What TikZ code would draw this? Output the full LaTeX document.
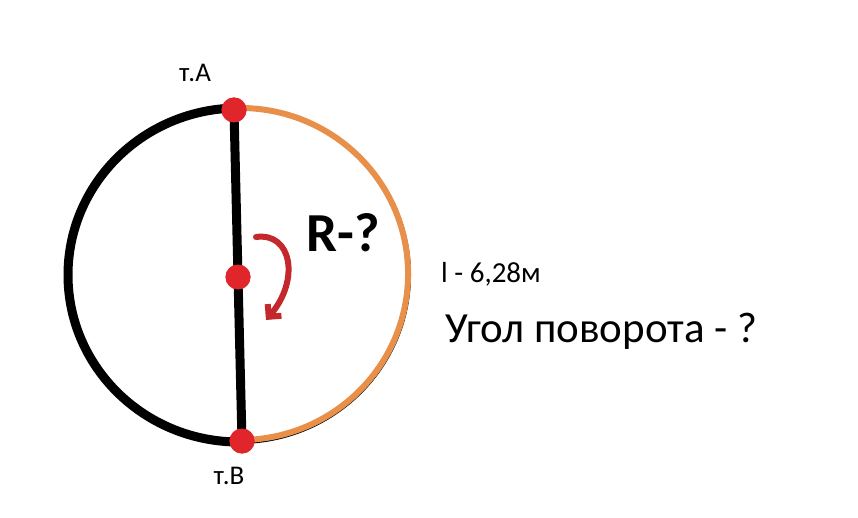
\documentclass[tikz,border=0pt]{standalone}
\usepackage{fontspec}
\setmainfont{Carlito}
\usetikzlibrary{positioning}
\usetikzlibrary{arrows.meta}
\definecolor{dotred}{HTML}{E0262B}
\definecolor{arrowred}{HTML}{C4282C}
\definecolor{arcorange}{HTML}{E8904A}
\tikzset{mydot/.style={circle, fill=dotred, inner sep=0pt, minimum size=25pt},
mylabel/.style={font=\fontsize{27}{29}\selectfont, inner sep=0pt}}
\begin{document}
\begin{tikzpicture}[x=1pt, y=-1pt, line cap=round]
	\useasboundingbox[fill=white] (0,0) rectangle (858,518);
	% circle
	\draw[line width=9pt] (239,108) arc[start angle=270, end angle=90, x radius=171, y radius=167];
	\draw[line width=4pt] (239,108) arc[start angle=-90, end angle=90, x radius=170, y radius=167];
	\draw[line width=6pt, arcorange] (243,108) arc[start angle=-89, end angle=88, x radius=168, y radius=166];
	% points
	\node[mydot] (A) at (234,110) {};
	\node[mydot] (O) at (238,277) {};
	\node[mydot] (B) at (242,441) {};
	\draw[line width=9pt] (A) -- (O) -- (B);
	\node[mydot] at (O) {};
	\node[mydot] at (A) {};
	\node[mydot] at (B) {};
	\node[mylabel] (lA) at (195,73) {т.А};
	\node[mylabel] (lB) at (229,476) {т.В};
	% rotation arrow
	\coordinate (s) at (256,237);
	\coordinate (e) at (266,320);
	\draw[arrowred, line width=6pt, -{Straight Barb[length=9pt, width=18pt]}]
		(s) .. controls (292,232) and (300,280) .. (e);
	\node[font=\fontsize{55}{57}\selectfont\bfseries, inner sep=0pt] (R) at (343,233) {R-?};
	\node[font=\fontsize{29}{32}\selectfont, inner sep=0pt, anchor=west] (len) at (441,274) {l - 6,28м};
	\node[font=\fontsize{43}{45}\selectfont, inner sep=0pt, anchor=west] (ang) at (445,331) {Угол поворота - ?};
\end{tikzpicture}
\end{document}
